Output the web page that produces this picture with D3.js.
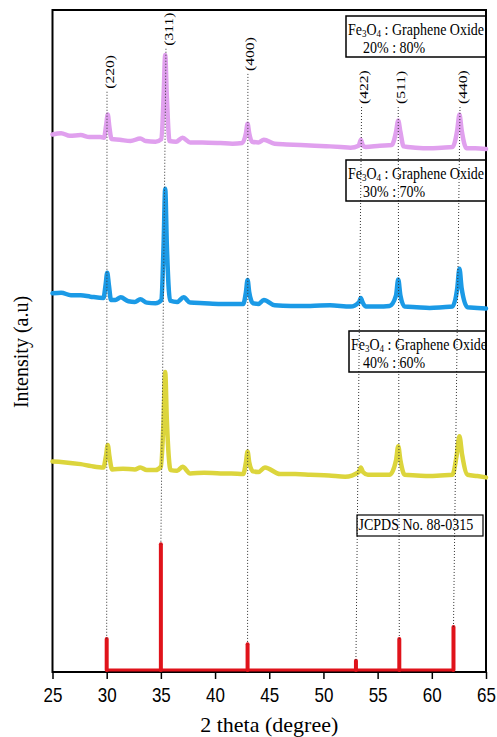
<!DOCTYPE html>
<html>
<head>
<meta charset="utf-8">
<script src="https://cdn.jsdelivr.net/npm/d3@7"></script>
<style>
  body { margin: 0; background: #fff; }
</style>
</head>
<body>
<div class="chart"></div>
<script>
// [2theta, intensity (a.u.)], series stacked as drawn
const series20 = [[25.0,81.2],[25.8,81.4],[26.6,81.0],[27.6,81.1],[28.4,80.8],[29.4,80.8],[29.75,80.7],[29.95,82.6],[30.1,84.2],[30.25,82.3],[30.45,80.5],[31.2,80.4],[32.2,80.2],[33.1,80.6],[33.6,80.2],[34.5,80.1],[35.05,80.5],[35.25,86.9],[35.4,93.2],[35.55,86.9],[35.8,80.2],[36.4,80.1],[37.0,80.7],[37.7,80.0],[38.8,80.0],[40.5,79.9],[41.6,79.8],[42.5,79.9],[42.85,81.4],[43.0,82.8],[43.15,81.4],[43.4,80.1],[44.0,80.0],[44.5,80.4],[45.5,79.8],[46.6,79.7],[47.9,79.6],[49.2,79.5],[50.6,79.4],[51.6,79.3],[52.5,79.2],[53.25,79.5],[53.45,80.4],[53.65,79.5],[53.9,79.3],[55.2,79.5],[56.3,79.6],[56.7,81.6],[56.9,83.3],[57.1,81.6],[57.4,79.4],[58.5,79.2],[59.8,79.1],[60.9,79.2],[61.9,79.3],[62.35,81.9],[62.55,84.2],[62.75,81.9],[63.2,79.1],[64.0,79.1],[65.0,79.0]];
const series30 = [[25.0,57.2],[25.8,57.3],[26.7,56.9],[27.6,56.9],[28.5,56.7],[29.7,56.5],[29.9,58.5],[30.05,60.3],[30.2,58.5],[30.4,56.2],[30.8,56.2],[31.3,56.6],[32.0,56.0],[32.6,55.9],[33.1,56.3],[33.7,55.8],[34.5,55.7],[35.05,56.2],[35.25,64.5],[35.4,73.0],[35.55,64.5],[35.85,56.1],[36.5,55.9],[37.1,56.6],[37.7,55.8],[39.0,55.7],[40.5,55.6],[41.5,55.6],[42.6,55.6],[42.85,57.4],[43.0,59.2],[43.15,57.4],[43.5,55.7],[44.0,55.6],[44.5,56.2],[45.5,55.4],[47.0,55.3],[48.8,55.3],[50.6,55.4],[52.5,55.2],[53.3,55.9],[53.45,56.5],[53.6,55.9],[53.9,55.2],[55.0,55.2],[56.1,55.3],[56.7,56.9],[56.9,59.3],[57.1,56.9],[57.5,55.2],[58.6,55.1],[59.8,55.0],[61.0,55.1],[61.9,55.2],[62.35,58.0],[62.55,60.9],[62.75,58.0],[63.3,55.1],[64.2,55.0],[65.0,54.9]];
const series40 = [[25.0,31.8],[26.0,31.7],[27.6,31.4],[28.6,31.1],[29.7,30.9],[29.95,32.8],[30.1,34.3],[30.25,32.6],[30.5,30.6],[31.5,30.7],[32.6,30.6],[33.1,30.9],[33.7,30.5],[34.5,30.5],[35.0,31.0],[35.25,38.1],[35.4,45.3],[35.55,38.1],[35.9,30.5],[36.5,30.4],[37.0,31.0],[37.7,30.0],[39.0,30.1],[40.5,30.0],[41.5,30.0],[42.6,29.9],[42.85,31.7],[43.0,33.3],[43.15,31.7],[43.5,30.3],[44.0,30.2],[44.6,30.9],[46.0,29.9],[47.4,29.9],[48.8,29.8],[50.5,29.7],[52.0,29.5],[53.25,30.2],[53.45,30.9],[53.65,30.2],[54.1,29.8],[55.0,29.8],[56.1,29.8],[56.7,32.0],[56.9,34.1],[57.1,32.0],[57.5,29.8],[58.6,29.7],[59.8,29.6],[60.8,29.7],[61.9,29.8],[62.3,32.8],[62.55,35.6],[62.8,32.8],[63.3,29.8],[64.2,29.6],[65.0,29.4]];

// JCPDS 88-0315 reference lines
const hkl = ["(220)", "(311)", "(400)", "(422)", "(511)", "(440)"];
const refTheta = [30, 35, 43, 53, 57, 62];
const refIntensity = [5.0, 19.3, 4.2, 1.7, 5.0, 6.8];
const refBase = 0.3;
// where each hkl label sits (2theta, intensity at the label's lower end)
const labelTheta = [30.03, 35.47, 43.03, 53.52, 56.9, 62.6];
const labelLevel = [88.1, 94.6, 90.8, 85.8, 85.8, 85.8];

const ratios = ["20% : 80%", "30% : 70%", "40% : 60%"];
const xTicks = [25, 30, 35, 40, 45, 50, 55, 60, 65];

const width = 497;
const height = 737;
const plotLeft = 52.5, plotRight = 486, plotTop = 10, plotBottom = 672;
const stretch = 1.2; // source picture is squashed horizontally

const colours = ["#e0a0ee", "#1b9ae6", "#dcd53c"];
const red = "#e0131b";
const serif = "'Liberation Serif', 'Times New Roman', serif";

const svg = d3
  .select(".chart")
  .append("svg")
  .attr("width", width)
  .attr("height", height);

const x = d3.scaleLinear().domain([25, 65]).range([plotLeft, plotRight]);
const y = d3.scaleLinear().domain([0, 100]).range([plotBottom, plotTop]);

// x axis
const axis = svg
  .append("g")
  .attr("transform", `translate(0, ${plotBottom})`)
  .call(d3.axisBottom(x).tickValues(xTicks).tickSize(7).tickSizeOuter(0).tickFormat(d3.format("d")));

axis.select(".domain").remove();
axis.selectAll(".tick line").attr("stroke", "#000").attr("stroke-width", 1.5);
axis
  .selectAll(".tick text")
  .attr("y", 0)
  .attr("dy", 0)
  .attr("transform", `translate(0, 29.5) scale(1, ${stretch})`)
  .attr("fill", "#000")
  .attr("font-family", "'Liberation Sans', Arial, sans-serif")
  .attr("font-size", "17px");

// frame
svg
  .append("rect")
  .attr("x", plotLeft)
  .attr("y", plotTop)
  .attr("width", plotRight - plotLeft)
  .attr("height", plotBottom - plotTop)
  .attr("fill", "none")
  .attr("stroke", "#000")
  .attr("stroke-width", 2);

// patterns
const line = d3
  .line()
  .x((d) => x(d[0]))
  .y((d) => y(d[1]))
  .curve(d3.curveMonotoneX);

svg
  .append("g")
  .selectAll("path")
  .data([series20, series30, series40])
  .join("path")
  .attr("d", line)
  .attr("fill", "none")
  .attr("stroke", (_d, i) => colours[i])
  .attr("stroke-width", 4.5)
  .attr("stroke-linejoin", "round")
  .attr("stroke-linecap", "round");

// reference sticks
svg
  .append("line")
  .attr("x1", x(refTheta[0]))
  .attr("x2", x(refTheta[refTheta.length - 1]))
  .attr("y1", y(refBase))
  .attr("y2", y(refBase))
  .attr("stroke", red)
  .attr("stroke-width", 3);

svg
  .append("g")
  .selectAll("line")
  .data(refTheta)
  .join("line")
  .attr("x1", (d) => x(d))
  .attr("x2", (d) => x(d))
  .attr("y1", y(refBase))
  .attr("y2", (_d, i) => y(refIntensity[i]))
  .attr("stroke", red)
  .attr("stroke-width", 4)
  .attr("stroke-linecap", "round");

// dotted guides from label to stick
svg
  .append("g")
  .selectAll("line")
  .data(hkl)
  .join("line")
  .attr("x1", (_d, i) => x(labelTheta[i]))
  .attr("y1", (_d, i) => y(labelLevel[i]) + 3)
  .attr("x2", (_d, i) => x(refTheta[i]))
  .attr("y2", (_d, i) => y(refIntensity[i]))
  .attr("stroke", "#333")
  .attr("stroke-width", 1)
  .attr("stroke-dasharray", "1,2");

svg
  .append("g")
  .selectAll("text")
  .data(hkl)
  .join("text")
  .attr("transform", (_d, i) => `translate(${x(labelTheta[i]) + 2}, ${y(labelLevel[i])}) scale(1, ${stretch}) rotate(-90)`)
  .attr("dy", "0.35em")
  .attr("font-family", serif)
  .attr("font-size", "13px")
  .attr("fill", "#000")
  .text((d) => d);

// composition boxes
const boxes = [
  { x: 346, y0: 16, y1: 57 },
  { x: 346, y0: 160, y1: 201 },
  { x: 349, y0: 331, y1: 372 },
];

boxes.forEach((b, i) => {
  const g = svg.append("g");
  g.append("rect")
    .attr("x", b.x)
    .attr("y", b.y0)
    .attr("width", plotRight - b.x)
    .attr("height", b.y1 - b.y0)
    .attr("fill", "none")
    .attr("stroke", "#000")
    .attr("stroke-width", 1.5);

  // Fe3O4 with subscripts in a single text run
  const t = g
    .append("text")
    .attr("transform", `translate(${b.x + 2}, ${b.y1 - 22.5}) scale(1, ${stretch})`)
    .attr("font-family", serif)
    .attr("font-size", "14px")
    .attr("fill", "#000");
  t.append("tspan").text("Fe");
  t.append("tspan").attr("font-size", "9px").attr("dy", 2).text("3");
  t.append("tspan").attr("dy", -2).text("O");
  t.append("tspan").attr("font-size", "9px").attr("dy", 2).text("4");
  t.append("tspan").attr("dy", -2).text(" : Graphene Oxide");

  g.append("text")
    .attr("transform", `translate(363, ${b.y1 - 4}) scale(1, ${stretch})`)
    .attr("font-family", serif)
    .attr("font-size", "14px")
    .attr("fill", "#000")
    .text(ratios[i]);
});

// JCPDS box
svg
  .append("rect")
  .attr("x", 357)
  .attr("y", 515)
  .attr("width", 126)
  .attr("height", 21)
  .attr("fill", "none")
  .attr("stroke", "#000")
  .attr("stroke-width", 1.2);

svg
  .append("text")
  .attr("transform", `translate(358.5, 530) scale(1, ${stretch})`)
  .attr("font-family", serif)
  .attr("font-size", "14px")
  .attr("fill", "#000")
  .text("JCPDS No. 88-0315");

// axis titles
svg
  .append("text")
  .attr("transform", `translate(${(plotLeft + plotRight) / 2}, 732)`)
  .attr("text-anchor", "middle")
  .attr("font-family", serif)
  .attr("font-size", "22px")
  .attr("fill", "#000")
  .text("2 theta (degree)");

svg
  .append("text")
  .attr("transform", `translate(28, 352) rotate(-90)`)
  .attr("text-anchor", "middle")
  .attr("font-family", serif)
  .attr("font-size", "20px")
  .attr("fill", "#000")
  .text("Intensity (a.u)");
</script>
</body>
</html>
